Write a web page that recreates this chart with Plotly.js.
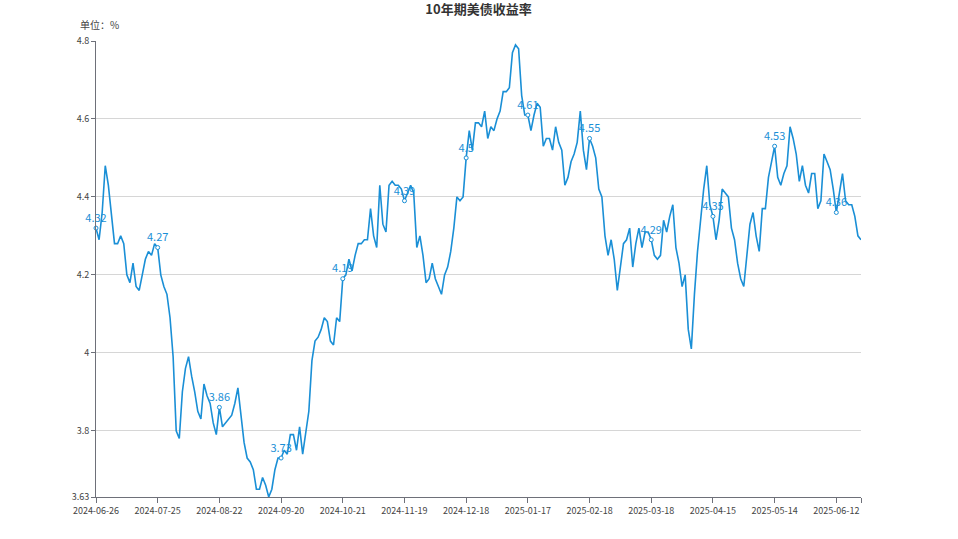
<!DOCTYPE html>
<html>
<head>
<meta charset="utf-8">
<script src="https://cdn.plot.ly/plotly-3.0.1.min.js"></script>
<style>
html,body{margin:0;padding:0;background:#fff;}
#chart{width:958px;height:539px;}
</style>
</head>
<body>
<div id="chart"></div>
<script>
// ---- data ----
const startDate = '2024-06-26';
const endDate = '2025-06-25';
const holidays = ['2024-07-04','2024-09-02','2024-10-14','2024-11-11','2024-11-28','2024-12-25',
  '2025-01-01','2025-01-20','2025-02-17','2025-04-18','2025-05-26','2025-06-19'];

const yields = [
  4.32,4.29,4.36,4.48,4.43,4.36,4.28,4.28,4.30,4.28,
  4.20,4.18,4.23,4.17,4.16,4.20,4.24,4.26,4.25,4.28,
  4.27,4.20,4.17,4.15,4.09,3.99,3.80,3.78,3.90,3.96,
  3.99,3.94,3.90,3.85,3.83,3.92,3.89,3.87,3.82,3.79,
  3.86,3.81,3.82,3.83,3.84,3.87,3.91,3.84,3.77,3.73,
  3.72,3.70,3.65,3.65,3.68,3.66,3.63,3.65,3.70,3.73,
  3.73,3.75,3.74,3.79,3.79,3.75,3.81,3.74,3.79,3.85,
  3.98,4.03,4.04,4.06,4.09,4.08,4.03,4.02,4.09,4.08,
  4.19,4.20,4.24,4.21,4.25,4.28,4.28,4.29,4.29,4.37,
  4.30,4.27,4.43,4.33,4.31,4.43,4.44,4.43,4.43,4.42,
  4.39,4.41,4.43,4.41,4.27,4.30,4.25,4.18,4.19,4.23,
  4.19,4.17,4.15,4.20,4.22,4.26,4.32,4.40,4.39,4.40,
  4.50,4.57,4.52,4.59,4.59,4.58,4.62,4.55,4.58,4.57,
  4.60,4.62,4.67,4.67,4.68,4.77,4.79,4.78,4.66,4.61,
  4.61,4.57,4.61,4.64,4.63,4.53,4.55,4.55,4.52,4.58,
  4.54,4.52,4.43,4.45,4.49,4.51,4.54,4.62,4.52,4.47,
  4.55,4.53,4.50,4.42,4.40,4.30,4.25,4.29,4.24,4.16,
  4.22,4.28,4.29,4.32,4.22,4.28,4.32,4.27,4.31,4.31,
  4.29,4.25,4.24,4.25,4.34,4.31,4.35,4.38,4.27,4.23,
  4.17,4.20,4.06,4.01,4.15,4.26,4.34,4.42,4.48,4.38,
  4.35,4.29,4.34,4.42,4.41,4.40,4.32,4.29,4.23,4.19,
  4.17,4.25,4.33,4.36,4.30,4.26,4.37,4.37,4.45,4.49,
  4.53,4.45,4.43,4.46,4.48,4.58,4.55,4.51,4.44,4.48,
  4.43,4.41,4.46,4.46,4.37,4.39,4.51,4.49,4.47,4.42,
  4.36,4.41,4.46,4.39,4.38,4.38,4.35,4.30,4.29
];

const yTickVals = [3.63, 3.8, 4, 4.2, 4.4, 4.6, 4.8];
const yTickText = ['3.63', '3.8', '4', '4.2', '4.4', '4.6', '4.8'];
const labelEvery = 20;

// ---- trading-day categories ----
function tradingDays(start, end, hol) {
  const out = [];
  const d = new Date(start + 'T00:00:00Z');
  const e = new Date(end + 'T00:00:00Z');
  while (d <= e) {
    const s = d.toISOString().slice(0, 10);
    const wd = d.getUTCDay();
    if (wd !== 0 && wd !== 6 && hol.indexOf(s) < 0) out.push(s);
    d.setUTCDate(d.getUTCDate() + 1);
  }
  return out;
}
const dates = tradingDays(startDate, endDate, holidays);

const lblX = [], lblY = [], lblT = [];
for (let i = 0; i < yields.length; i += labelEvery) {
  lblX.push(dates[i]); lblY.push(yields[i]); lblT.push(String(yields[i]));
}
const xTickVals = lblX.concat([dates[dates.length - 1]]);
const xTickText = lblX.concat(['']);

const lineColor = '#1a8fd6';
const axisColor = '#6E7079';
const FONT = '"Microsoft YaHei","Noto Sans CJK SC","Noto Sans",sans-serif';

const traces = [
  {
    type: 'scatter', mode: 'lines', x: dates, y: yields,
    line: {color: lineColor, width: 1.6},
    hoverinfo: 'x+y', showlegend: false
  },
  {
    type: 'scatter', mode: 'markers+text', x: lblX, y: lblY, text: lblT,
    textposition: 'top center',
    textfont: {family: FONT, size: 11, color: lineColor},
    marker: {symbol: 'circle', size: 4, color: '#ffffff', line: {color: lineColor, width: 1}},
    hoverinfo: 'skip', showlegend: false, cliponaxis: false
  }
];

const layout = {
  width: 958, height: 539,
  margin: {l: 96, r: 97, t: 41, b: 42, pad: 0},
  paper_bgcolor: '#ffffff', plot_bgcolor: '#ffffff',
  font: {family: FONT, size: 10, color: '#333'},
  title: {
    text: '<b>10年期美债收益率</b>',
    font: {family: FONT, size: 13, color: '#333'},
    x: 0.5, xanchor: 'center', xref: 'paper',
    y: 1 - 9 / 539, yanchor: 'middle', yref: 'container'
  },
  xaxis: {
    type: 'category',
    range: [0, dates.length - 1],
    tickvals: xTickVals, ticktext: xTickText,
    tickangle: 0,
    ticks: 'outside', ticklen: 5, tickcolor: axisColor, tickwidth: 1,
    showline: true, linecolor: axisColor, linewidth: 1,
    showgrid: false, zeroline: false,
    tickfont: {family: FONT, size: 9, color: '#444'},
    fixedrange: true
  },
  yaxis: {
    range: [3.63, 4.8],
    tickvals: yTickVals, ticktext: yTickText,
    ticks: 'outside', ticklen: 4, tickcolor: axisColor, tickwidth: 1,
    showline: true, linecolor: axisColor, linewidth: 1,
    showgrid: true, gridcolor: '#d6d6d6', gridwidth: 1,
    zeroline: false,
    tickfont: {family: FONT, size: 9, color: '#444'},
    fixedrange: true
  },
  annotations: [{
    text: '单位：%', xref: 'paper', yref: 'paper',
    x: (78 - 96) / 765, y: (497 - 25) / 456,
    xanchor: 'left', yanchor: 'middle', showarrow: false,
    font: {family: FONT, size: 10, color: '#444'}
  }]
};

Plotly.newPlot('chart', traces, layout, {displayModeBar: false, staticPlot: false});
</script>
</body>
</html>
